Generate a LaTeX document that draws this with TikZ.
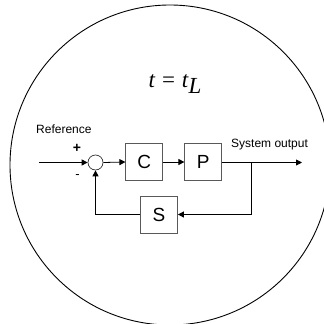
\documentclass[tikz,border=0pt]{standalone}
\usepackage{fontspec}
\setmainfont{Liberation Sans}
\newfontfamily\timesfont{Liberation Serif}
\usetikzlibrary{arrows.meta}
\begin{document}
\begin{tikzpicture}[x=1pt,y=-1pt,
  blk/.style={draw=black!65,line width=0.8pt,minimum width=37pt,minimum height=37pt,inner sep=0pt,font=\fontsize{19}{19}\selectfont},
  sumc/.style={circle,draw=black!80,line width=0.7pt,minimum size=15pt,inner sep=0pt},
  conn/.style={line width=0.8pt,black},
  arr/.style={conn,-{Triangle[length=6pt,width=6pt]}},
  lbl/.style={font=\fontsize{12}{12}\selectfont,inner sep=0pt}]
\useasboundingbox (0,0) rectangle (324,324);
\begin{scope}
\clip (0,0) rectangle (324,324);
\draw[line width=0.9pt] (170,165) circle[radius=160];
\end{scope}
\node[font=\timesfont\fontsize{23}{23}\selectfont,anchor=base,inner sep=0pt] (title) at (175,87)
  {\textit{t}\hspace{1pt} = \hspace{1pt}\textit{t}\raisebox{-6pt}{\textit{L}}};
\coordinate (in) at (39,162.5);
\node[sumc] (sum) at (95.5,162.5) {};
\node[blk] (C) at (144.3,162) {C};
\node[blk] (P) at (203.3,162) {P};
\node[blk] (S) at (159,214.5) {S};
\coordinate (br) at (251,162.5);
\coordinate (out) at (302,162.5);
\coordinate (fbr) at (251,214.5);
\coordinate (fbl) at (95.5,214.5);
\node[lbl,anchor=base west] (ref) at (36,133) {Reference};
\node[lbl,anchor=base west] (sys) at (231,147.5) {System output};
\node[lbl,font=\fontsize{14}{14}\bfseries\selectfont] (plus) at (77,148.5) {+};
\node[lbl,font=\fontsize{13}{13}\selectfont] (minus) at (77.5,176.5) {-};
\draw[arr] (in) -- (sum.west);
\draw[arr] (sum.east) -- (C.west);
\draw[arr] (C.east) -- (P.west);
\draw[conn] (P.east |- br) -- (br);
\draw[arr] (br) -- (out);
\draw[arr] (br) -- (fbr) -- (S.east);
\draw[arr] (S.west) -- (fbl) -- (sum.south);
\end{tikzpicture}
\end{document}
